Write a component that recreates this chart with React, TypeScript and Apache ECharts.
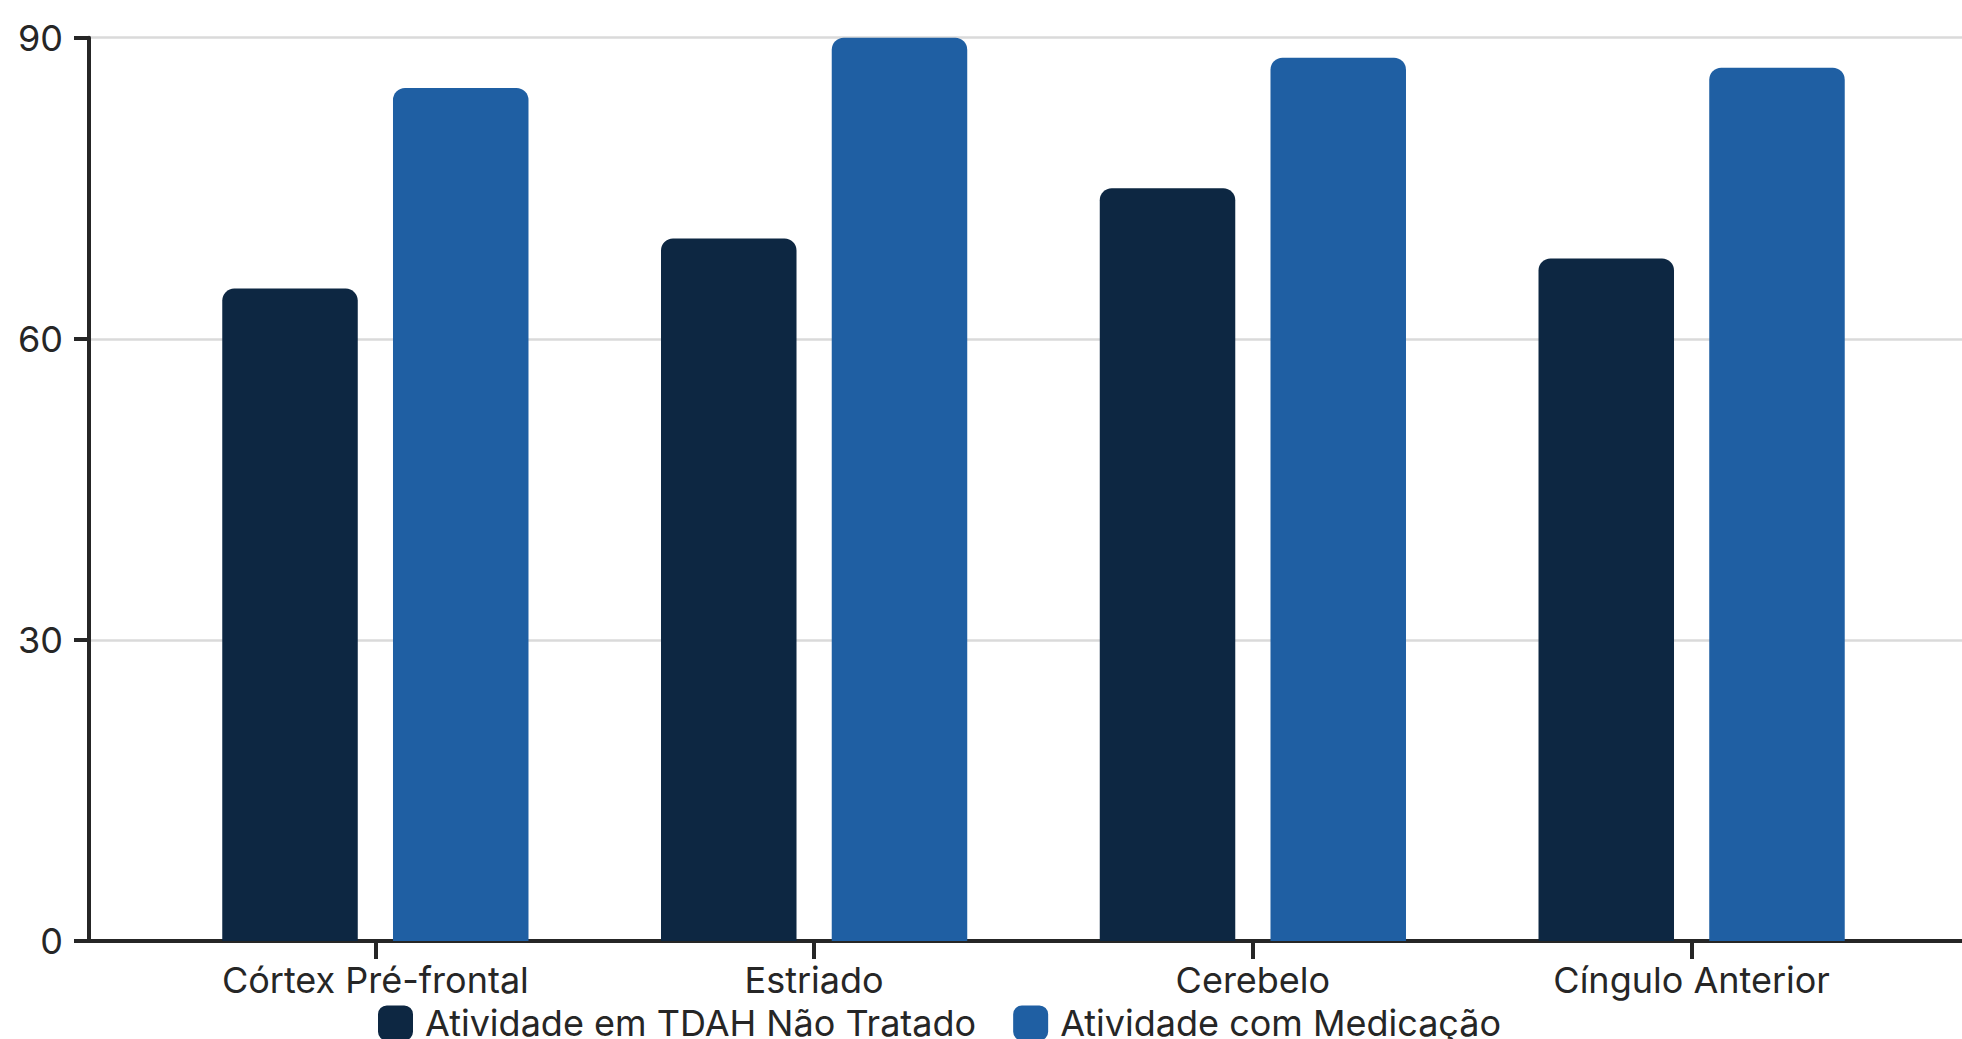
import React, { useEffect, useRef } from "react";
import * as echarts from "echarts";

const categories = ["Córtex Pré-frontal", "Estriado", "Cerebelo", "Cíngulo Anterior"];
const seriesNames = ["Atividade em TDAH Não Tratado", "Atividade com Medicação"];
const untreated = [65, 70, 75, 68];
const medicated = [85, 90, 88, 87];
const yMin = 0;
const yMax = 90;
const yInterval = 30;

const FONT = "Inter";
const AXIS = "#262626";
const TEXT = "#262626";

export default function App() {
  const ref = useRef<HTMLDivElement>(null);
  useEffect(() => {
    if (!ref.current) return;
    const chart = echarts.init(ref.current, undefined, { renderer: "svg" });
    const top = 37.7;
    const bottom = 98;
    chart.setOption({
      animation: false,
      backgroundColor: "#ffffff",
      textStyle: { fontFamily: FONT },
      grid: [
        { left: 89, right: -10, top, bottom },
        { left: 156, width: 1755, top, bottom },
      ],
      xAxis: [
        {
          type: "value",
          gridIndex: 0,
          min: 0,
          max: 1,
          axisLine: { show: true, onZero: false, lineStyle: { color: AXIS, width: 4 } },
          axisTick: { show: false },
          axisLabel: { show: false },
          splitLine: { show: false },
        },
        {
          type: "category",
          gridIndex: 1,
          data: categories,
          axisLine: { show: false },
          axisTick: { show: true, alignWithLabel: true, length: 18, lineStyle: { color: AXIS, width: 4 } },
          axisLabel: { color: TEXT, fontSize: 36, fontFamily: FONT, margin: 21, lineHeight: 36 },
          splitLine: { show: false },
        },
      ],
      yAxis: [
        {
          type: "value",
          gridIndex: 0,
          min: yMin,
          max: yMax,
          interval: yInterval,
          axisLine: { show: true, onZero: false, lineStyle: { color: AXIS, width: 4 } },
          axisTick: { show: true, length: 15, lineStyle: { color: AXIS, width: 4 } },
          axisLabel: { color: TEXT, fontSize: 36, fontFamily: FONT, margin: 26 },
          splitLine: { show: true, lineStyle: { color: "#dadada", width: 2.5 } },
        },
        {
          type: "value",
          gridIndex: 1,
          min: yMin,
          max: yMax,
          interval: yInterval,
          show: false,
          splitLine: { show: false },
        },
      ],
      legend: {
        data: seriesNames,
        left: 373,
        top: 1000,
        icon: "roundRect",
        itemWidth: 35,
        itemHeight: 35,
        itemGap: 37,
        textStyle: { color: TEXT, fontSize: 36, fontFamily: FONT, padding: [0, 0, 0, 7] },
      },
      series: [
        {
          name: seriesNames[0],
          type: "bar",
          xAxisIndex: 1,
          yAxisIndex: 1,
          data: untreated,
          barWidth: 135.5,
          barGap: "26%",
          itemStyle: { color: "#0d2742", borderRadius: [12, 12, 0, 0] },
        },
        {
          name: seriesNames[1],
          type: "bar",
          xAxisIndex: 1,
          yAxisIndex: 1,
          data: medicated,
          barWidth: 135.5,
          barGap: "26%",
          itemStyle: { color: "#1f5fa3", borderRadius: [12, 12, 0, 0] },
        },
      ],
    });
    return () => chart.dispose();
  }, []);
  return (
    <div
      ref={ref}
      style={{ position: "fixed", left: 0, top: 0, width: 1962, height: 1039 }}
    />
  );
}
